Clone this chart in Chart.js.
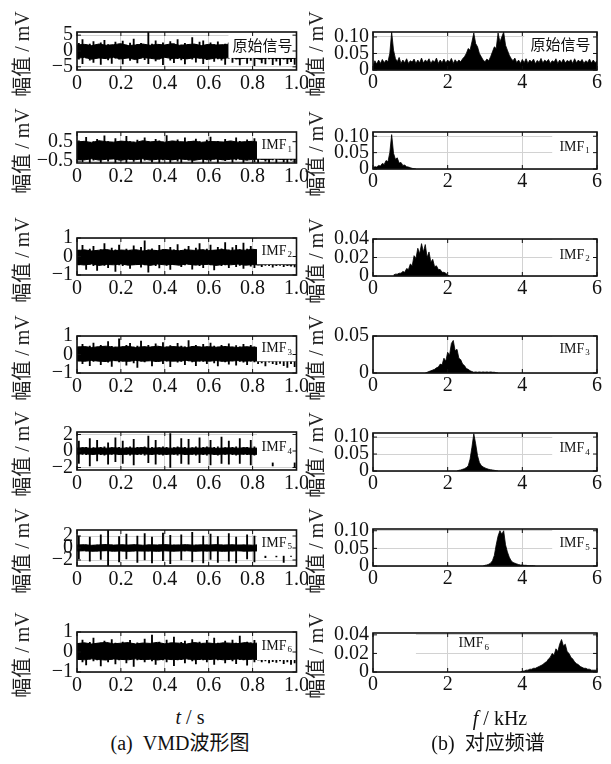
<!DOCTYPE html>
<html><head><meta charset="utf-8">
<script src="https://cdn.jsdelivr.net/npm/chart.js@4.4.1/dist/chart.umd.min.js"></script>
<style>
body{margin:0;background:#fff;width:611px;height:764px;overflow:hidden;position:relative;font-family:"Liberation Serif","Noto Sans CJK SC",serif;color:#111;}
canvas{position:absolute;}
.yt{position:absolute;white-space:nowrap;font-size:20px;line-height:20px;transform:translate(-50%,-50%) rotate(-90deg);color:#222;}
.cap{position:absolute;white-space:nowrap;font-size:20px;line-height:22px;transform:translate(-50%,-50%);}
</style></head><body>
<script>
// ---------- time-domain signals ----------
// dense core band (31 points over 0..1 s): upper / lower edge of the solid black band
const rawCoreHi = [1.9,2.1,1.7,2.2,1.8,2.0,2.3,1.7,1.9,2.2,1.8,2.1,1.9,2.3,1.8,2.0,2.2,1.7,2.1,1.9,2.0,2.2,1.8,2.1,1.9,2.0,2.2,1.8,2.0,1.9,2.1];
const rawCoreLo = [-2.3,-2.0,-2.6,-2.2,-2.4,-2.0,-2.5,-2.2,-2.7,-2.1,-2.3,-2.6,-2.0,-2.4,-2.2,-2.5,-2.1,-2.3,-2.6,-2.2,-2.4,-2.0,-2.5,-2.3,-2.1,-2.6,-2.2,-2.4,-2.3,-2.5,-2.2];
const imf1CoreHi = [0.48,0.52,0.45,0.55,0.5,0.47,0.53,0.5,0.46,0.55,0.49,0.52,0.47,0.54,0.5,0.48,0.53,0.46,0.51,0.5,0.48,0.54,0.47,0.5,0.52,0.46,0.5,0.48,0.52,0.47,0.5];
const imf1CoreLo = [-0.4,-0.44,-0.38,-0.45,-0.41,-0.39,-0.46,-0.4,-0.43,-0.38,-0.45,-0.41,-0.4,-0.44,-0.39,-0.42,-0.46,-0.4,-0.43,-0.39,-0.44,-0.41,-0.38,-0.45,-0.42,-0.4,-0.43,-0.39,-0.42,-0.4,-0.41];
const imf2CoreHi = [0.32,0.36,0.3,0.34,0.38,0.31,0.35,0.33,0.37,0.3,0.35,0.32,0.38,0.34,0.31,0.36,0.33,0.37,0.32,0.35,0.38,0.33,0.36,0.34,0.39,0.35,0.37,0.33,0.36,0.34,0.35];
const imf2CoreLo = [-0.42,-0.46,-0.4,-0.48,-0.43,-0.45,-0.4,-0.47,-0.44,-0.42,-0.48,-0.41,-0.45,-0.43,-0.47,-0.4,-0.46,-0.44,-0.42,-0.48,-0.43,-0.45,-0.41,-0.47,-0.44,-0.46,-0.42,-0.45,-0.43,-0.46,-0.44];
const imf3CoreHi = [0.4,0.43,0.38,0.42,0.45,0.39,0.41,0.44,0.38,0.42,0.4,0.45,0.39,0.43,0.41,0.38,0.44,0.4,0.42,0.39,0.43,0.41,0.38,0.42,0.4,0.37,0.41,0.38,0.4,0.39,0.4];
const imf3CoreLo = [-0.34,-0.37,-0.32,-0.36,-0.38,-0.33,-0.35,-0.37,-0.32,-0.36,-0.34,-0.38,-0.33,-0.36,-0.35,-0.32,-0.37,-0.34,-0.36,-0.33,-0.37,-0.35,-0.33,-0.36,-0.34,-0.37,-0.35,-0.36,-0.34,-0.35,-0.36];
const imf4CoreHi = [0.35,0.4,0.32,0.38,0.34,0.4,0.33,0.37,0.35,0.41,0.32,0.38,0.36,0.34,0.4,0.33,0.37,0.35,0.39,0.32,0.36,0.38,0.34,0.4,0.33,0.36,0.35,0.38,0.34,0.36,0.35];
const imf4CoreLo = [-0.38,-0.34,-0.42,-0.36,-0.4,-0.35,-0.43,-0.37,-0.39,-0.34,-0.41,-0.36,-0.4,-0.38,-0.35,-0.42,-0.37,-0.39,-0.35,-0.41,-0.38,-0.36,-0.4,-0.37,-0.42,-0.38,-0.36,-0.4,-0.37,-0.39,-0.38];
const imf5CoreHi = [0.5,0.55,0.45,0.52,0.58,0.48,0.54,0.5,0.56,0.46,0.53,0.5,0.57,0.48,0.52,0.55,0.47,0.53,0.5,0.56,0.49,0.54,0.5,0.52,0.47,0.55,0.5,0.53,0.48,0.52,0.5];
const imf5CoreLo = [-0.5,-0.46,-0.55,-0.5,-0.45,-0.54,-0.49,-0.56,-0.48,-0.52,-0.5,-0.55,-0.47,-0.53,-0.5,-0.46,-0.54,-0.5,-0.52,-0.48,-0.55,-0.5,-0.47,-0.53,-0.51,-0.48,-0.54,-0.5,-0.52,-0.49,-0.5];
const imf6CoreHi = [0.42,0.46,0.4,0.45,0.48,0.41,0.44,0.47,0.4,0.45,0.43,0.48,0.41,0.46,0.44,0.4,0.47,0.43,0.45,0.41,0.46,0.44,0.42,0.47,0.43,0.45,0.41,0.44,0.42,0.45,0.43];
const imf6CoreLo = [-0.36,-0.39,-0.34,-0.38,-0.4,-0.35,-0.37,-0.39,-0.34,-0.38,-0.36,-0.4,-0.35,-0.38,-0.37,-0.34,-0.39,-0.36,-0.38,-0.35,-0.39,-0.37,-0.35,-0.38,-0.36,-0.39,-0.37,-0.38,-0.36,-0.37,-0.38];
// spike peaks (60 bins over 0..1 s): highest / lowest excursion per bin
const rawHi = [2.4,3.6,1.9,2.2,3.0,1.8,2.6,3.4,2.0,1.7,2.8,2.2,3.1,1.9,2.5,3.8,2.1,2.4,1.9,6.0,2.2,3.2,2.0,2.6,1.8,3.0,2.3,3.6,1.9,2.4,2.1,4.2,2.0,2.8,3.2,1.9,2.6,2.0,2.9,1.8,2.2,2.6,2.0,3.0,2.4,1.9,2.7,2.2,3.1,2.0,2.5,2.8,1.9,2.4,3.0,2.1,2.6,2.2,2.9,2.0];
const rawLo = [-2.6,-4.0,-2.2,-2.9,-3.6,-2.1,-4.2,-2.4,-2.8,-3.9,-2.3,-2.6,-4.1,-2.0,-3.0,-2.5,-3.8,-2.2,-2.7,-4.0,-2.3,-3.1,-2.6,-4.3,-2.1,-2.9,-3.7,-2.4,-2.8,-4.1,-2.2,-2.6,-3.5,-2.3,-4.0,-2.7,-2.2,-3.3,-2.5,-2.9,-4.2,-2.3,-3.6,-2.6,-4.4,-2.2,-3.9,-3.0,-4.6,-2.4,-3.8,-4.1,-2.5,-4.3,-3.2,-4.5,-2.6,-4.0,-3.4,-4.2];
const imf1Hi = [0.55,0.48,0.72,0.45,0.5,0.62,0.44,0.8,0.5,0.47,0.66,0.52,0.45,0.78,0.5,0.48,0.58,0.46,0.7,0.5,0.44,0.62,0.55,0.48,0.82,0.47,0.52,0.6,0.45,0.7,0.5,0.47,0.64,0.5,0.44,0.58,0.74,0.48,0.52,0.45,0.62,0.5,0.46,0.7,0.52,0.47,0.6,0.5,0.66,0.45,0.55,0.62,0.48,0.5,0.58,0.46,0.52,0.6,0.48,0.55];
const imf1Lo = [-0.42,-0.55,-0.38,-0.6,-0.45,-0.4,-0.62,-0.42,-0.5,-0.38,-0.58,-0.44,-0.4,-0.6,-0.42,-0.52,-0.4,-0.63,-0.45,-0.4,-0.56,-0.42,-0.6,-0.44,-0.4,-0.58,-0.43,-0.5,-0.62,-0.4,-0.45,-0.58,-0.42,-0.4,-0.6,-0.44,-0.5,-0.4,-0.62,-0.43,-0.48,-0.4,-0.57,-0.44,-0.41,-0.6,-0.45,-0.4,-0.55,-0.62,-0.42,-0.5,-0.58,-0.44,-0.6,-0.4,-0.55,-0.62,-0.45,-0.58];
const imf2Hi = [0.35,0.6,0.32,0.4,0.55,0.3,0.38,0.7,0.33,0.45,0.36,0.62,0.3,0.4,0.34,0.58,0.32,0.5,0.85,0.36,0.42,0.33,0.6,0.38,0.3,0.5,0.36,0.65,0.34,0.4,0.55,0.32,0.45,0.7,0.36,0.4,0.62,0.33,0.5,0.42,0.75,0.35,0.48,0.6,0.38,0.72,0.4,0.55,0.36,0.5,0.4,0.45,0.36,0.5,0.4,0.42,0.38,0.45,0.4,0.44];
const imf2Lo = [-0.45,-0.4,-0.7,-0.42,-0.5,-0.75,-0.4,-0.48,-0.6,-0.42,-0.8,-0.45,-0.5,-0.4,-0.65,-0.44,-0.42,-0.58,-0.46,-0.85,-0.42,-0.5,-0.62,-0.4,-0.48,-0.7,-0.44,-0.4,-0.55,-0.46,-0.42,-0.68,-0.45,-0.5,-0.6,-0.42,-0.45,-0.72,-0.44,-0.5,-0.46,-0.6,-0.42,-0.55,-0.48,-0.65,-0.44,-0.52,-0.6,-0.46,-0.55,-0.48,-0.5,-0.58,-0.5,-0.48,-0.55,-0.5,-0.52,-0.56];
const imf3Hi = [0.4,0.55,0.38,0.45,0.62,0.4,0.5,0.42,0.7,0.44,0.4,0.85,0.42,0.5,0.6,0.4,0.46,0.72,0.42,0.5,0.4,0.58,0.44,0.65,0.42,0.48,0.4,0.6,0.46,0.42,0.75,0.44,0.5,0.4,0.55,0.42,0.62,0.45,0.4,0.5,0.44,0.58,0.4,0.48,0.42,0.55,0.4,0.5,0.42,0.46,0.4,0.44,0.42,0.45,0.4,0.44,0.42,0.46,0.4,0.44];
const imf3Lo = [-0.35,-0.5,-0.32,-0.6,-0.38,-0.34,-0.55,-0.36,-0.42,-0.65,-0.34,-0.4,-0.36,-0.58,-0.35,-0.45,-0.7,-0.36,-0.4,-0.34,-0.62,-0.38,-0.35,-0.5,-0.36,-0.66,-0.34,-0.42,-0.38,-0.55,-0.35,-0.4,-0.6,-0.36,-0.38,-0.5,-0.35,-0.45,-0.62,-0.36,-0.4,-0.52,-0.35,-0.58,-0.38,-0.42,-0.55,-0.36,-0.4,-0.5,-0.45,-0.62,-0.42,-0.5,-0.55,-0.48,-0.6,-0.7,-0.5,-0.66];
const imf4Hi = [1.2,0.4,0.45,1.5,0.4,1.3,0.45,0.5,1.0,0.4,1.6,0.45,1.2,0.4,0.5,1.4,0.45,0.4,0.5,1.8,0.45,1.3,0.4,0.5,0.45,2.1,0.4,0.5,1.5,0.45,1.4,0.4,0.5,1.6,0.45,0.5,1.3,0.45,0.5,1.7,0.4,1.2,0.45,0.5,1.5,0.4,0.45,1.3,0.5,0.45,1.0,0.4,0.5,1.2,0.45,0.4,1.1,0.45,0.5,1.4];
const imf4Lo = [-1.5,-0.4,-0.45,-1.8,-0.4,-1.2,-0.45,-0.5,-1.6,-0.4,-1.3,-0.45,-1.5,-0.4,-0.5,-1.7,-0.45,-0.4,-0.5,-1.4,-0.45,-1.6,-0.4,-0.5,-0.45,-2.0,-0.4,-0.5,-1.5,-0.45,-1.6,-0.4,-0.5,-1.4,-0.45,-0.5,-1.7,-0.45,-0.5,-1.5,-0.4,-1.6,-0.45,-0.5,-1.5,-0.4,-0.45,-1.7,-0.5,-0.45,-0.6,-0.4,-0.5,-1.8,-0.45,-0.4,-0.5,-0.45,-0.5,-1.9];
const imf5Hi = [2.0,0.45,0.5,1.8,0.45,0.5,2.2,0.45,3.0,0.5,0.45,1.9,0.5,2.3,0.45,0.5,2.0,0.45,2.4,0.5,1.8,0.45,0.5,2.5,0.45,2.1,0.5,0.45,2.2,0.5,0.45,2.6,0.5,0.45,2.0,0.5,2.3,0.45,1.9,0.5,0.45,2.4,0.5,1.8,0.45,0.5,2.2,0.45,2.0,0.5,0.45,1.6,0.5,0.45,1.8,0.5,0.45,1.5,0.5,0.45];
const imf5Lo = [-1.8,-0.45,-0.5,-2.2,-0.45,-0.5,-1.9,-0.45,-3.0,-0.5,-0.45,-2.3,-0.5,-1.8,-0.45,-0.5,-2.4,-0.45,-2.0,-0.5,-2.5,-0.45,-0.5,-2.1,-0.45,-2.6,-0.5,-0.45,-2.0,-0.5,-0.45,-2.3,-0.5,-0.45,-2.5,-0.5,-1.9,-0.45,-2.4,-0.5,-0.45,-2.2,-0.5,-2.5,-0.45,-0.5,-1.8,-0.45,-2.3,-0.5,-0.45,-1.6,-0.5,-0.45,-1.5,-0.5,-2.4,-0.45,-1.4,-0.45];
const imf6Hi = [0.42,0.6,0.4,0.48,0.7,0.42,0.45,0.55,0.4,0.62,0.44,0.4,0.5,0.42,0.58,0.4,0.46,0.42,0.65,0.4,0.85,0.44,0.5,0.42,0.6,0.45,0.75,0.42,0.48,0.55,0.4,0.62,0.44,0.5,0.42,0.58,0.4,0.7,0.45,0.42,0.55,0.4,0.6,0.44,0.8,0.42,0.5,0.46,0.58,0.42,0.45,0.4,0.5,0.42,0.45,0.44,0.4,0.46,0.42,0.5];
const imf6Lo = [-0.38,-0.5,-0.65,-0.36,-0.45,-0.4,-0.7,-0.38,-0.5,-0.36,-0.6,-0.4,-0.38,-0.55,-0.36,-0.72,-0.4,-0.38,-0.5,-0.36,-0.45,-0.62,-0.38,-0.4,-0.5,-0.36,-0.68,-0.4,-0.38,-0.55,-0.36,-0.45,-0.6,-0.38,-0.4,-0.5,-0.36,-0.62,-0.4,-0.38,-0.55,-0.36,-0.45,-0.58,-0.38,-0.4,-0.66,-0.36,-0.5,-0.4,-0.5,-0.45,-0.55,-0.48,-0.52,-0.45,-0.58,-0.5,-0.62,-0.55];

// ---------- spectra (kHz, amplitude mV), sampled every specStep kHz from the given start ----------
const specStep = 0.05;
const rawSpecStart = 0;
const rawSpec = [0.012,0.028,0.018,0.03,0.02,0.032,0.022,0.03,0.025,0.05,0.115,0.06,0.035,0.025,0.038,0.02,0.03,0.022,0.034,0.02,
 0.028,0.024,0.033,0.02,0.03,0.022,0.036,0.021,0.03,0.025,0.034,0.02,0.029,0.024,0.036,0.02,0.03,0.022,0.033,0.021,
 0.03,0.024,0.035,0.02,0.031,0.023,0.03,0.025,0.034,0.04,0.05,0.065,0.06,0.085,0.112,0.08,0.07,0.05,0.04,0.03,
 0.025,0.033,0.028,0.04,0.055,0.07,0.065,0.112,0.085,0.1,0.115,0.075,0.06,0.045,0.035,0.028,0.036,0.022,0.03,0.02,
 0.032,0.022,0.034,0.02,0.03,0.024,0.033,0.019,0.029,0.023,0.035,0.021,0.03,0.025,0.032,0.02,0.028,0.024,0.034,0.02,
 0.03,0.022,0.033,0.021,0.029,0.025,0.031,0.02,0.034,0.022,0.03,0.024,0.032,0.02,0.028,0.023,0.033,0.021,0.03,0.022,0.028];
const imf1SpecStart = 0;
const imf1Spec = [0.004,0.007,0.006,0.011,0.009,0.017,0.014,0.026,0.022,0.05,0.105,0.048,0.03,0.034,0.018,0.02,0.011,0.012,0.007,0.006,0.004,0.002,0.001,0];
const imf2SpecStart = 0.55;
const imf2Spec = [0.001,0.002,0.002,0.003,0.003,0.005,0.004,0.008,0.007,0.013,0.011,0.022,0.019,0.03,0.024,0.035,0.026,0.034,0.02,0.026,0.015,0.018,0.01,0.011,0.007,0.007,0.004,0.004,0.003,0.001,0];
const imf3SpecStart = 1.4;
const imf3Spec = [0,0.001,0.002,0.003,0.004,0.005,0.007,0.008,0.012,0.011,0.02,0.016,0.028,0.024,0.04,0.044,0.03,0.032,0.02,0.018,0.012,0.01,0.006,0.005,0.003,0.002,0.001,0.0015,0.001,0.0015,0.001,0.0015,0.001,0.0015,0.001,0.0015,0.001,0.001,0.0005,0];
const imf4SpecStart = 2.25;
const imf4Spec = [0,0.002,0.003,0.005,0.007,0.01,0.015,0.035,0.07,0.11,0.08,0.045,0.025,0.016,0.012,0.009,0.007,0.005,0.004,0.003,0.002,0.001,0];
const imf5SpecStart = 2.95;
const imf5Spec = [0,0.002,0.003,0.005,0.008,0.015,0.03,0.06,0.085,0.1,0.09,0.1,0.06,0.04,0.025,0.015,0.01,0.008,0.006,0.004,0.003,0.003,0.002,0.002,0.001,0.001,0.001,0.0005,0];
const imf6SpecStart = 3.95;
const imf6Spec = [0,0.001,0.001,0.002,0.002,0.003,0.003,0.004,0.004,0.005,0.006,0.007,0.008,0.01,0.011,0.014,0.016,0.02,0.018,0.025,0.022,0.03,0.035,0.028,0.03,0.022,0.02,0.016,0.014,0.011,0.009,0.008,0.006,0.005,0.004,0.004,0.003,0.003,0.002,0.002,0.002,0.002];

// ---------- axes ----------
const timeTicks = [0,0.2,0.4,0.6,0.8,1.0];
const freqTicks = [0,2,4,6];
const leftYTicks = [[-5,0,5],[-0.5,0.5],[-1,0,1],[-1,0,1],[-2,0,2],[-2,0,2],[-1,0,1]];
const leftYRange = [[-6,6],[-0.6,1.0],[-1,1],[-1,1],[-2.3,2.3],[-3,3],[-1,1]];
const rightYTicks = [[0,0.05,0.10],[0,0.05,0.10],[0,0.02,0.04],[0,0.05],[0,0.05,0.10],[0,0.05,0.10],[0,0.02,0.04]];
const rightYRange = [[0,0.115],[0,0.113],[0,0.04],[0,0.05],[0,0.112],[0,0.105],[0,0.042]];
const labelNames = ['原始信号','IMF','IMF','IMF','IMF','IMF','IMF'];
const labelSubs = ['','1','2','3','4','5','6'];
const yTitle = '幅值 / mV';

// ---------- layout (pixels) ----------
const leftRows = [[26,70],[126,163],[232,275],[330,373],[426,470],[524,566],[626,672]];
const rightRows = [[26,70],[126,169],[233,276],[330,373],[427,471],[523,566],[627,672]];
// label boxes in data units: [x0, x1, yBottom, yTop(null = top)]
const leftBoxes = [[0.69,1,-2.2,null],[0.82,1,-0.38,null],[0.82,1,-0.42,null],[0.82,1,-0.37,null],[0.82,1,-1.4,null],[0.82,1,-1.3,null],[0.82,1,-0.4,null]];
const rightBoxes = [[4.05,6,0.04,null],[4.8,6,0.022,null],[4.8,6,0.0055,null],[4.8,6,0.015,null],[4.8,6,0.02,null],[4.8,6,0.022,null],[0,1.15,0.012,null]];
const rightTextPos = [null,null,null,null,null,null,[2.7,0.031]];

const PADTOP = 10, XH = 30;
const tickFont = {family:'"Liberation Serif", serif', size:20};
const GRID = '#d2d2d2';

function spikes(hi, lo){ const n = hi.length; return hi.map((h,i)=>({x:(i+0.5)/n, y:[lo[i], h]})); }
function band(vals){ const n = vals.length; return vals.map((v,i)=>({x:i/(n-1), y:v})); }
function spec(start, vals){ return vals.map((v,i)=>({x:start+i*specStep, y:v})); }
function fmtLeft(v){ return v<0 ? '\u2212'+(-v) : String(v); }
function fmtRight(v){ return v===0 ? '0' : v.toFixed(2); }

const deco = {
  id:'deco',
  afterDatasetsDraw(chart, args, o){
    const {ctx, chartArea:a, scales:{x,y}} = chart;
    const b = o.box;
    ctx.save();
    const x0 = Math.max(a.left, x.getPixelForValue(b[0]));
    const x1 = Math.min(a.right, x.getPixelForValue(b[1]));
    const yb = y.getPixelForValue(b[2]);
    const yt = b[3]===null ? a.top : y.getPixelForValue(b[3]);
    ctx.fillStyle = '#fff';
    ctx.fillRect(x0, yt, x1-x0, yb-yt);
    let tx = (x0+x1)/2, ty = (yt+yb)/2;
    if(o.textPos){ tx = x.getPixelForValue(o.textPos[0]); ty = y.getPixelForValue(o.textPos[1]); }
    ctx.fillStyle = '#111';
    ctx.textBaseline = 'middle';
    if(o.sub===''){
      ctx.font = '15px "Noto Sans CJK SC", sans-serif';
      ctx.textAlign = 'center';
      ctx.fillText(o.name, tx, ty);
    } else {
      ctx.font = '14px "Liberation Serif", serif';
      const w1 = ctx.measureText(o.name).width;
      ctx.font = '9px "Liberation Serif", serif';
      const w2 = ctx.measureText(o.sub).width;
      const sx = tx - (w1+w2+1)/2;
      ctx.textAlign = 'left';
      ctx.font = '14px "Liberation Serif", serif';
      ctx.fillText(o.name, sx, ty);
      ctx.font = '9px "Liberation Serif", serif';
      ctx.fillText(o.sub, sx+w1+1, ty+4);
    }
    ctx.restore();
  },
  afterDraw(chart){
    const {ctx, chartArea:a, scales:{x,y}} = chart;
    ctx.save();
    ctx.strokeStyle = '#111';
    ctx.lineWidth = 1;
    ctx.beginPath();
    x.ticks.forEach(t=>{ const p = x.getPixelForValue(t.value);
      ctx.moveTo(p, a.bottom); ctx.lineTo(p, a.bottom-4);
      ctx.moveTo(p, a.top); ctx.lineTo(p, a.top+4); });
    y.ticks.forEach(t=>{ const p = y.getPixelForValue(t.value);
      ctx.moveTo(a.left, p); ctx.lineTo(a.left+4, p);
      ctx.moveTo(a.right, p); ctx.lineTo(a.right-4, p); });
    ctx.stroke();
    ctx.lineWidth = 1.6;
    ctx.strokeRect(a.left, a.top, a.right-a.left, a.bottom-a.top);
    ctx.restore();
  }
};

function panel(cfg){
  const c = document.createElement('canvas');
  c.width = cfg.w; c.height = cfg.h;
  c.style.left = cfg.left+'px'; c.style.top = cfg.top+'px';
  c.style.width = cfg.w+'px'; c.style.height = cfg.h+'px';
  document.body.appendChild(c);
  new Chart(c, {
    type:'line',
    data:{datasets:cfg.ds},
    options:{
      responsive:false, animation:false, devicePixelRatio:1,
      layout:{autoPadding:false, padding:{left:0, right:cfg.padR, top:PADTOP, bottom:0}},
      plugins:{legend:{display:false}, tooltip:{enabled:false},
        deco:{box:cfg.box, name:cfg.name, sub:cfg.sub, textPos:cfg.textPos}},
      scales:{
        x:{type:'linear', min:cfg.xr[0], max:cfg.xr[1], offset:false,
           afterBuildTicks:s=>{ s.ticks = cfg.xt.map(v=>({value:v})); },
           afterFit:s=>{ s.height = XH; },
           ticks:{font:tickFont, color:'#111', padding:cfg.xpad, maxRotation:0, autoSkip:false, callback:cfg.xf},
           grid:{color:GRID, lineWidth:1, drawTicks:false, offset:false}, border:{display:false}},
        y:{type:'linear', min:cfg.yr[0], max:cfg.yr[1],
           afterBuildTicks:s=>{ s.ticks = cfg.yt.map(v=>({value:v})); },
           afterFit:s=>{ s.width = cfg.yw; },
           ticks:{font:tickFont, color:'#111', padding:4, autoSkip:false, callback:cfg.yf},
           grid:{color:GRID, lineWidth:1, drawTicks:false}, border:{display:false}}
      }
    },
    plugins:[deco]
  });
}

const coreSeries = [[rawCoreHi,rawCoreLo],[imf1CoreHi,imf1CoreLo],[imf2CoreHi,imf2CoreLo],[imf3CoreHi,imf3CoreLo],[imf4CoreHi,imf4CoreLo],[imf5CoreHi,imf5CoreLo],[imf6CoreHi,imf6CoreLo]];
const spikeSeries = [[rawHi,rawLo],[imf1Hi,imf1Lo],[imf2Hi,imf2Lo],[imf3Hi,imf3Lo],[imf4Hi,imf4Lo],[imf5Hi,imf5Lo],[imf6Hi,imf6Lo]];
const specSeries = [[rawSpecStart,rawSpec],[imf1SpecStart,imf1Spec],[imf2SpecStart,imf2Spec],[imf3SpecStart,imf3Spec],[imf4SpecStart,imf4Spec],[imf5SpecStart,imf5Spec],[imf6SpecStart,imf6Spec]];

for(let i=0;i<7;i++){
  const [t0,t1] = leftRows[i];
  const line = {borderColor:'#000', pointRadius:0, tension:0, borderJoinStyle:'bevel'};
  panel({left:0, top:t0-PADTOP, w:312, h:PADTOP+(t1-t0)+XH, padR:312-296.5, yw:77, xpad:2,
    xr:[0,1], xt:timeTicks, xf:v=> v===0?'0':v.toFixed(1),
    yr:leftYRange[i], yt:leftYTicks[i], yf:fmtLeft,
    box:leftBoxes[i], name:labelNames[i], sub:labelSubs[i], textPos:null,
    ds:[
      Object.assign({data:band(coreSeries[i][0]), borderWidth:1, fill:'+1', backgroundColor:'#000'}, line),
      Object.assign({data:band(coreSeries[i][1]), borderWidth:1, fill:false}, line),
      {type:'bar', data:spikes(spikeSeries[i][0], spikeSeries[i][1]), backgroundColor:'#000', borderWidth:0, barThickness:1.2, grouped:false}
    ]});
  const [r0,r1] = rightRows[i];
  panel({left:305, top:r0-PADTOP, w:306, h:PADTOP+(r1-r0)+XH, padR:14, yw:68, xpad:1,
    xr:[0,6], xt:freqTicks, xf:v=>String(v),
    yr:rightYRange[i], yt:rightYTicks[i], yf:fmtRight,
    box:rightBoxes[i], name:labelNames[i], sub:labelSubs[i], textPos:rightTextPos[i],
    ds:[{data:spec(specSeries[i][0], specSeries[i][1]), borderColor:'#000', backgroundColor:'#000', borderWidth:0.8, pointRadius:0, fill:'origin', tension:0, borderJoinStyle:'bevel'}]});
}

function addText(cls, html, x, y){
  const d = document.createElement('div'); d.className = cls; d.innerHTML = html;
  d.style.left = x+'px'; d.style.top = y+'px'; document.body.appendChild(d);
}
for(let i=0;i<7;i++){
  addText('yt', yTitle, 21.5, (leftRows[i][0]+leftRows[i][1])/2+6);
  addText('yt', yTitle, 316, (rightRows[i][0]+rightRows[i][1])/2+6);
}
addText('cap', '<i>t</i> / s', 190, 717);
addText('cap', '<i>f</i> / kHz', 500, 718);
addText('cap', '(a)&nbsp;&nbsp;VMD波形图', 180, 743);
addText('cap', '(b)&nbsp;&nbsp;对应频谱', 488, 743);
</script>
</body></html>
